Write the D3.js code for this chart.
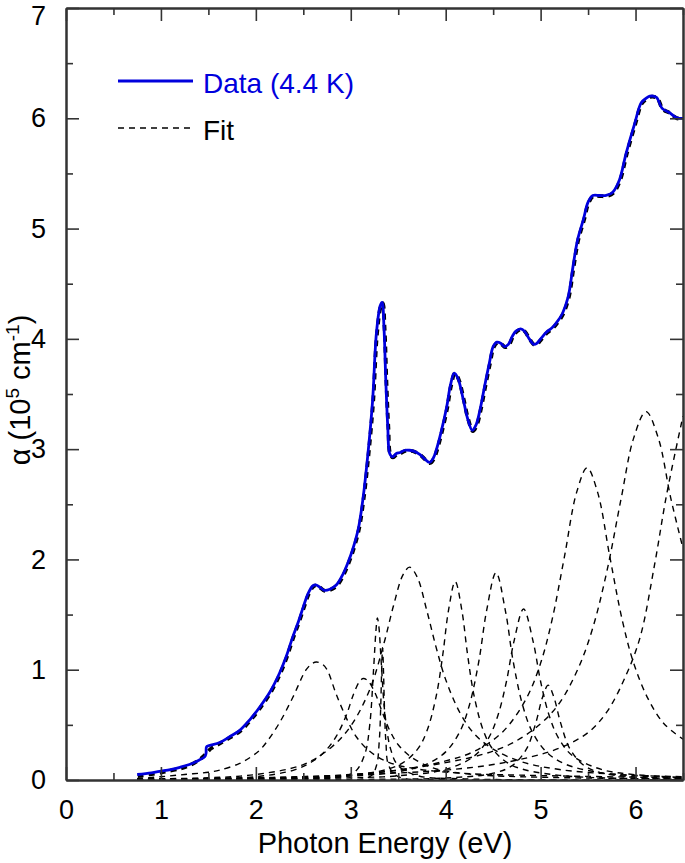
<!DOCTYPE html>
<html>
<head>
<meta charset="utf-8">
<script src="https://cdn.jsdelivr.net/npm/d3@7"></script>
<style>
    body { margin: 0; background: #fff; }
    svg text { font-family: "Liberation Sans", Arial, Helvetica, sans-serif; fill: #000; }
    .axis path { stroke: #333; stroke-width: 2; }
    .axis line { stroke: #333; stroke-width: 1.6; }
    .axis text { font-size: 27px; }
</style>
</head>
<body>
<div id="chart"></div>
<script>
// tick values
var xMajorTicks = [0, 1, 2, 3, 4, 5, 6];
var xMinorTicks = [0.5, 1.5, 2.5, 3.5, 4.5, 5.5, 6.5];
var yMajorTicks = [0, 1, 2, 3, 4, 5, 6, 7];
var yMinorTicks = [0.5, 1.5, 2.5, 3.5, 4.5, 5.5, 6.5];

// measured absorption, [eV, alpha]
var dataSeries = [[0.75,0.05],[0.9,0.065],[1.0,0.08],[1.1,0.095],[1.2,0.115],[1.3,0.14],[1.4,0.18],[1.46,0.21],
    [1.475,0.24],[1.48,0.30],[1.5,0.31],[1.62,0.34],[1.72,0.39],[1.83,0.45],[1.94,0.55],[2.04,0.66],[2.15,0.8],
    [2.25,0.97],[2.32,1.12],[2.39,1.3],[2.45,1.44],[2.5,1.57],[2.55,1.69],[2.6,1.76],[2.63,1.77],[2.67,1.75],
    [2.72,1.72],[2.78,1.73],[2.85,1.77],[2.92,1.87],[2.97,1.97],[3.02,2.09],[3.08,2.28],[3.13,2.56],[3.18,2.95],
    [3.23,3.44],[3.27,4.05],[3.31,4.3],[3.33,4.33],[3.35,4.1],[3.37,3.6],[3.39,3.2],[3.41,2.96],[3.44,2.93],
    [3.48,2.96],[3.52,2.97],[3.57,2.99],[3.62,2.99],[3.67,2.98],[3.73,2.95],[3.78,2.91],[3.83,2.88],[3.87,2.92],
    [3.9,2.99],[3.95,3.15],[4.01,3.38],[4.05,3.58],[4.09,3.69],[4.13,3.64],[4.18,3.47],[4.23,3.28],[4.28,3.17],
    [4.32,3.22],[4.36,3.35],[4.41,3.57],[4.46,3.78],[4.5,3.93],[4.54,3.97],[4.58,3.96],[4.62,3.93],[4.66,3.95],
    [4.7,4.02],[4.74,4.07],[4.79,4.09],[4.83,4.07],[4.88,4.0],[4.93,3.95],[4.96,3.96],[5.0,4.0],[5.06,4.06],
    [5.12,4.1],[5.17,4.15],[5.23,4.23],[5.29,4.38],[5.34,4.65],[5.39,4.9],[5.45,5.08],[5.5,5.24],[5.55,5.3],
    [5.62,5.3],[5.69,5.3],[5.76,5.33],[5.83,5.44],[5.9,5.68],[5.99,5.95],[6.06,6.14],[6.11,6.18],[6.15,6.2],
    [6.22,6.19],[6.28,6.09],[6.36,6.05],[6.42,6.01],[6.46,6.0],[6.5,6.0]];

// total fit below 1.6 eV (smooth, no step); above it the fit follows the data
var fitLow = [[0.75,0.04],[1.0,0.075],[1.2,0.11],[1.3,0.14],[1.4,0.19],[1.46,0.235],[1.52,0.29],[1.58,0.32]];

// fit components, [eV, alpha]
var compA = [[0.75,0.015],[1.0,0.03],[1.25,0.05],[1.5,0.07],[1.62,0.09],[1.83,0.15],[1.95,0.21],[2.04,0.27],[2.11,0.34],
    [2.25,0.52],[2.39,0.75],[2.53,1.0],[2.6,1.06],[2.64,1.07],[2.7,1.05],[2.75,1.0],[2.85,0.77],[2.96,0.55],[3.06,0.39],
    [3.2,0.26],[3.4,0.16],[3.7,0.1],[4.2,0.06],[5.0,0.04],[6.5,0.02]];
var compB = [[0.75,0.005],[1.5,0.015],[2.0,0.03],[2.4,0.09],[2.6,0.17],[2.75,0.28],[2.85,0.4],[2.95,0.58],[3.03,0.78],
    [3.09,0.89],[3.13,0.92],[3.18,0.9],[3.25,0.8],[3.33,0.62],[3.41,0.45],[3.5,0.32],[3.65,0.2],[3.9,0.1],[4.3,0.05],
    [5.0,0.025],[6.5,0.01]];
var compC = [[0.75,0],[2.5,0.01],[2.9,0.03],[3.05,0.08],[3.15,0.24],[3.2,0.5],[3.24,1.0],[3.265,1.35],[3.28,1.47],
    [3.295,1.4],[3.32,1.08],[3.36,0.6],[3.42,0.28],[3.5,0.13],[3.7,0.04],[4.2,0.01],[6.5,0]];
var compC2 = [[0.75,0],[3.2,0.03],[3.27,0.13],[3.3,0.35],[3.315,0.65],[3.325,0.98],[3.335,1.2],[3.345,0.98],[3.355,0.65],
    [3.37,0.35],[3.4,0.13],[3.5,0.03],[4.0,0.005],[6.5,0]];
var compD = [[0.75,0.01],[1.5,0.02],[2.0,0.05],[2.5,0.14],[2.8,0.3],[3.0,0.49],[3.2,0.82],[3.35,1.24],[3.45,1.58],
    [3.55,1.86],[3.62,1.93],[3.7,1.84],[3.8,1.54],[3.9,1.2],[4.0,0.91],[4.15,0.61],[4.3,0.42],[4.5,0.28],[4.8,0.165],
    [5.2,0.095],[5.8,0.051],[6.5,0.03]];
var compE = [[0.75,0.003],[2.0,0.01],[3.0,0.04],[3.5,0.133],[3.7,0.275],[3.8,0.44],[3.9,0.76],[3.97,1.14],[4.03,1.54],
    [4.1,1.8],[4.17,1.54],[4.23,1.14],[4.3,0.76],[4.4,0.44],[4.5,0.275],[4.7,0.133],[5.2,0.042],[6.5,0.009]];
var compF = [[0.75,0.004],[2.0,0.012],[3.0,0.035],[3.5,0.075],[3.8,0.144],[4.0,0.255],[4.15,0.44],[4.25,0.68],[4.35,1.08],
    [4.43,1.53],[4.53,1.88],[4.63,1.53],[4.71,1.08],[4.81,0.68],[4.91,0.44],[5.06,0.255],[5.26,0.144],[5.6,0.07],
    [6.0,0.038],[6.5,0.021]];
var compG = [[0.75,0.003],[2.0,0.008],[3.0,0.02],[3.5,0.038],[4.0,0.096],[4.3,0.217],[4.45,0.378],[4.55,0.585],[4.64,0.893],
    [4.72,1.26],[4.82,1.55],[4.92,1.26],[5.0,0.893],[5.09,0.585],[5.19,0.378],[5.34,0.217],[5.64,0.096],[6.0,0.048],[6.5,0.024]];
var compH = [[0.75,0.001],[3.0,0.005],[4.0,0.018],[4.5,0.061],[4.7,0.13],[4.85,0.28],[4.95,0.52],[5.02,0.75],[5.08,0.86],
    [5.14,0.75],[5.21,0.52],[5.31,0.28],[5.46,0.13],[5.66,0.061],[6.16,0.018],[6.5,0.011]];
var compI = [[0.75,0.003],[1.5,0.008],[2.0,0.015],[2.5,0.025],[3.0,0.045],[3.5,0.09],[4.0,0.173],[4.3,0.26],[4.6,0.436],
    [4.85,0.74],[5.0,1.06],[5.12,1.45],[5.25,2.02],[5.38,2.61],[5.49,2.83],[5.6,2.61],[5.73,2.02],[5.86,1.45],[5.98,1.06],
    [6.13,0.74],[6.3,0.51],[6.5,0.37]];
var compJ = [[0.75,0.004],[1.5,0.01],[2.0,0.018],[2.5,0.03],[3.0,0.05],[3.5,0.09],[4.0,0.158],[4.4,0.235],[4.7,0.334],
    [5.0,0.51],[5.2,0.7],[5.4,1.02],[5.55,1.38],[5.7,1.9],[5.85,2.56],[5.98,3.1],[6.11,3.34],[6.24,3.1],[6.37,2.56],[6.5,2.1]];
var compK = [[0.75,0.005],[2.0,0.02],[3.0,0.045],[4.0,0.09],[4.5,0.14],[4.9,0.21],[5.2,0.29],[5.5,0.43],[5.7,0.62],
    [5.9,0.95],[6.05,1.3],[6.2,1.95],[6.33,2.6],[6.5,3.3]];
var components = [compA, compB, compC, compC2, compD, compE, compF, compG, compH, compI, compJ, compK];

var width = 685, height = 863;
var margin = { top: 8, right: 2, bottom: 83, left: 66 };
var dataColor = '#0000dd';

var svg = d3.select('#chart').append('svg')
    .attr('width', width)
    .attr('height', height);

var x = d3.scaleLinear().domain([0, 6.5]).range([margin.left, width - margin.right]);
var y = d3.scaleLinear().domain([0, 7]).range([height - margin.bottom, margin.top]);

svg.append('clipPath').attr('id', 'plot-clip')
    .append('rect')
    .attr('x', x(0)).attr('y', y(7))
    .attr('width', x(6.5) - x(0)).attr('height', y(0) - y(7));

var line = d3.line()
    .curve(d3.curveCatmullRom.alpha(0.5))
    .x(function (d) { return x(d[0]); })
    .y(function (d) { return y(d[1]); });

var plot = svg.append('g').attr('clip-path', 'url(#plot-clip)');

// components
plot.selectAll('path.comp')
    .data(components)
    .enter()
    .append('path')
    .attr('class', 'comp')
    .attr('d', line)
    .attr('fill', 'none')
    .attr('stroke', '#000')
    .attr('stroke-width', 1.4)
    .attr('stroke-dasharray', '6,5');

// total fit under the data line
var fitSeries = fitLow.concat(dataSeries.filter(function (d) { return d[0] >= 1.62; }));
plot.append('path')
    .datum(fitSeries)
    .attr('d', line)
    .attr('fill', 'none')
    .attr('stroke', '#000')
    .attr('stroke-width', 3.8)
    .attr('stroke-dasharray', '6,5')
    .attr('transform', 'translate(0.6,0.6)');

plot.append('path')
    .datum(dataSeries)
    .attr('d', line)
    .attr('fill', 'none')
    .attr('stroke', dataColor)
    .attr('stroke-width', 2.8);

// axes, ticks inward on all four sides
function addAxis(axisFn, transform, values, size, labels) {
    var a = axisFn
        .tickValues(values)
        .tickSizeInner(-size)
        .tickSizeOuter(0)
        .tickPadding(labels ? size + 7 : 0)
        .tickFormat(labels ? d3.format('d') : '');
    return svg.append('g')
        .attr('class', 'axis')
        .attr('transform', transform)
        .call(a);
}

addAxis(d3.axisBottom(x), 'translate(0,' + y(0) + ')', xMajorTicks, 13, true);
addAxis(d3.axisBottom(x), 'translate(0,' + y(0) + ')', xMinorTicks, 7, false);
addAxis(d3.axisTop(x), 'translate(0,' + y(7) + ')', xMajorTicks, 13, false);
addAxis(d3.axisTop(x), 'translate(0,' + y(7) + ')', xMinorTicks, 7, false);
var yAxis = addAxis(d3.axisLeft(y), 'translate(' + x(0) + ',0)', yMajorTicks, 13, true);
addAxis(d3.axisLeft(y), 'translate(' + x(0) + ',0)', yMinorTicks, 7, false);
addAxis(d3.axisRight(y), 'translate(' + x(6.5) + ',0)', yMajorTicks, 13, false);
addAxis(d3.axisRight(y), 'translate(' + x(6.5) + ',0)', yMinorTicks, 7, false);

svg.selectAll('.axis .domain').attr('stroke', '#333').attr('stroke-width', 2);

// top label sits a little lower so it stays inside the page
yAxis.selectAll('.tick')
    .filter(function (d) { return d === 7; })
    .select('text')
    .attr('dy', '0.6em');

// axis titles
svg.append('text')
    .attr('x', 385)
    .attr('y', 853)
    .attr('text-anchor', 'middle')
    .style('font-size', '29px')
    .text('Photon Energy (eV)');

var yTitle = svg.append('text')
    .attr('transform', 'translate(30,' + ((y(0) + y(7)) / 2 - 4) + ') rotate(-90)')
    .attr('text-anchor', 'middle')
    .style('font-size', '29px');
yTitle.append('tspan').text('\u03b1 (10');
yTitle.append('tspan').attr('dy', -11).style('font-size', '19px').text('5');
yTitle.append('tspan').attr('dy', 11).text(' cm');
yTitle.append('tspan').attr('dy', -11).style('font-size', '19px').text('-1');
yTitle.append('tspan').attr('dy', 11).text(')');

// legend
var legend = svg.append('g');
legend.append('line')
    .attr('x1', 118).attr('x2', 193).attr('y1', 81).attr('y2', 81)
    .attr('stroke', dataColor).attr('stroke-width', 2.8);
legend.append('text')
    .attr('x', 203).attr('y', 93)
    .style('font-size', '28px')
    .style('fill', dataColor)
    .text('Data (4.4 K)');
legend.append('line')
    .attr('x1', 118).attr('x2', 193).attr('y1', 128).attr('y2', 128)
    .attr('stroke', '#000').attr('stroke-width', 1.4)
    .attr('stroke-dasharray', '6,5');
legend.append('text')
    .attr('x', 203).attr('y', 140)
    .style('font-size', '28px')
    .text('Fit');
</script>
</body>
</html>
